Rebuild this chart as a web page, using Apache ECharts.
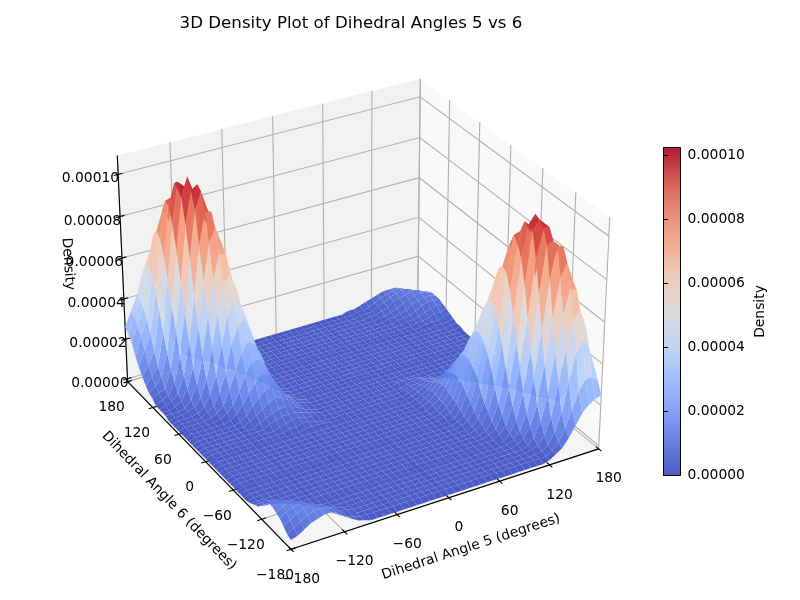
<!DOCTYPE html>
<html><head><meta charset="utf-8">
<style>html,body{margin:0;padding:0;background:#fff}#c{width:800px;height:600px}</style>
<script src="https://cdn.jsdelivr.net/npm/echarts@6/dist/echarts.min.js"></script>
</head><body><div id="c"></div>
<script>
const angleStep = 7.5;
const angleTicks = [-180,-120,-60,0,60,120,180];
const densityTicks = [0,0.00002,0.00004,0.00006,0.00008,0.0001];
const coolwarm = ['rgba(59,76,192,.9)','rgba(98,130,234,.9)','rgba(141,176,254,.9)','rgba(184,208,249,.9)','rgba(221,221,221,.9)','rgba(245,196,173,.9)','rgba(244,154,123,.9)','rgba(222,96,77,.9)','rgba(180,4,38,.9)'];
// density in units of 1e-6, one row per y from -180 to 180, one column per x from -180 to 180
const densityRows = [
[3,4,6,8,9,10,10,8,6,4,2,1,0,0,0,0,0,0,0,0,0,0,0,0,0,0,0,0,0,0,0,0,0,0,0,0,0,0,0,0,1,3,5,9,14,19,22,24,25],
[4,6,8,10,11,11,10,7,5,3,2,1,1,1,1,1,1,1,1,1,1,1,1,1,1,1,1,1,1,1,1,1,1,1,1,1,1,1,1,1,1,3,6,12,20,28,33,33,31],
[6,8,10,11,12,11,9,6,4,3,2,1,1,1,1,1,1,1,1,1,1,1,1,1,1,1,1,1,1,1,1,1,1,1,1,1,1,1,1,1,2,4,9,18,31,45,50,46,36],
[8,10,11,12,11,10,8,6,4,2,2,1,1,1,1,1,1,1,1,1,1,1,1,1,1,1,1,1,1,1,1,1,1,1,1,1,1,1,1,2,3,7,15,29,45,59,63,55,40],
[9,11,12,11,10,8,6,4,3,2,1,1,1,1,1,1,1,1,1,1,1,1,1,1,1,1,1,1,1,1,1,1,1,1,1,1,1,1,1,2,5,12,24,43,61,72,71,57,37],
[10,11,11,10,8,6,4,3,2,1,1,1,1,1,1,1,1,1,1,1,1,1,1,1,1,1,1,1,1,1,1,1,1,1,1,1,1,1,2,4,9,19,37,59,77,83,74,54,33],
[10,10,9,8,6,4,3,2,1,1,1,1,1,1,1,1,1,1,1,1,1,1,1,1,1,1,1,1,1,1,1,1,1,1,1,1,1,1,3,6,14,29,52,75,90,89,72,48,27],
[7,7,6,5,4,3,2,1,1,1,1,1,1,1,1,1,1,1,1,1,1,1,1,1,1,1,1,1,1,1,1,1,1,1,1,1,1,1,4,10,22,42,68,90,91,88,65,40,20],
[5,5,4,3,2,1,1,1,1,1,1,1,1,1,1,1,1,1,1,1,1,1,1,1,1,1,1,1,1,1,1,1,1,1,1,1,1,3,6,15,32,56,83,96,96,81,55,30,14],
[3,3,3,2,1,1,1,1,1,1,1,1,1,1,1,1,1,1,1,1,1,1,1,1,1,1,1,1,1,1,1,1,1,1,1,1,2,4,10,22,43,70,94,99,96,70,43,22,10],
[2,2,2,1,1,1,1,1,1,1,1,1,1,1,1,1,1,1,1,1,1,1,1,1,1,1,1,1,1,1,1,1,1,1,1,1,2,6,14,30,55,81,96,100,83,56,32,15,6],
[1,1,1,1,1,1,1,1,1,1,1,1,1,1,1,1,1,1,1,1,1,1,1,1,1,1,1,1,1,1,1,1,1,1,1,2,4,9,20,40,65,86,96,90,68,42,22,10,4],
[0,1,1,1,1,1,1,1,1,1,1,1,1,1,1,1,1,1,1,1,1,1,1,1,1,1,1,1,1,1,1,1,1,1,1,2,5,12,27,48,72,89,90,75,52,29,14,6,3],
[0,1,1,1,1,1,1,1,1,1,1,1,1,1,1,1,1,1,1,1,1,1,1,1,1,1,1,1,1,1,1,1,1,1,2,3,7,16,33,54,74,83,77,59,37,19,9,4,2],
[0,1,1,1,1,1,1,1,1,1,1,1,1,1,1,1,1,1,1,1,1,1,1,1,1,1,1,1,1,1,1,1,1,1,2,4,10,21,37,57,71,72,61,43,24,12,5,2,1],
[0,1,1,1,1,1,1,1,1,1,1,1,1,1,1,1,1,1,1,1,1,1,1,1,1,1,1,1,1,1,1,1,1,1,2,5,12,24,40,55,63,59,45,29,15,7,3,2,1],
[0,1,1,1,1,1,1,1,1,1,1,1,1,1,1,1,1,1,1,1,1,1,1,1,1,1,1,1,1,1,1,1,1,2,3,7,15,26,40,50,52,45,31,18,9,4,2,1,1],
[0,1,1,1,1,1,1,1,1,1,1,1,1,1,1,1,1,1,1,1,1,1,1,1,1,1,1,1,1,1,1,1,1,2,4,8,16,27,37,43,40,32,20,11,5,3,1,1,1],
[0,1,1,1,1,1,1,1,1,1,1,1,1,1,1,1,1,1,1,1,1,1,1,1,1,1,1,1,1,1,1,1,1,2,5,9,17,26,32,34,29,21,13,6,3,2,1,1,1],
[0,1,1,1,1,1,1,1,1,1,1,1,1,1,1,1,1,1,1,1,1,1,1,1,1,1,1,1,1,1,1,1,1,3,5,10,16,23,26,25,20,13,7,4,2,1,1,1,1],
[0,1,1,1,1,1,1,1,1,1,1,1,1,1,1,1,1,1,1,1,1,1,1,1,1,1,1,1,1,1,1,1,2,3,6,10,15,19,20,17,13,8,4,2,1,1,1,1,1],
[0,1,1,1,1,1,1,1,1,1,1,1,1,1,1,1,1,1,1,1,1,1,1,1,1,1,1,1,1,1,1,1,2,3,6,9,13,15,14,11,8,4,2,1,1,1,1,1,1],
[0,1,1,1,1,1,1,1,1,1,1,1,1,1,1,1,1,1,1,1,1,1,1,1,1,1,1,1,1,1,1,1,2,3,5,8,10,11,9,7,5,3,1,1,1,1,1,1,1],
[0,1,1,1,1,1,1,1,1,1,1,1,1,1,1,2,2,2,2,1,1,1,1,1,1,1,1,1,1,1,1,1,2,3,5,6,7,7,6,4,3,1,1,1,1,1,1,1,1],
[0,1,1,1,1,1,1,1,1,1,1,1,1,2,2,3,3,2,1,1,1,1,1,1,1,1,1,1,1,1,1,1,2,3,4,5,5,5,4,3,1,1,1,1,1,1,1,1,1],
[0,1,1,1,1,1,1,1,1,1,1,1,2,3,4,4,3,3,2,1,1,1,1,1,1,1,1,1,1,1,1,1,2,3,3,4,4,3,2,1,1,1,1,1,1,1,1,1,1],
[0,1,1,1,1,1,1,1,1,1,1,3,4,5,5,5,4,3,2,1,1,1,1,1,1,1,1,1,1,1,1,1,1,2,3,3,2,2,1,1,1,1,1,1,1,1,1,1,1],
[0,1,1,1,1,1,1,1,1,1,3,4,6,7,7,6,5,3,2,1,1,1,1,1,1,1,1,1,1,1,1,1,2,2,2,2,1,1,1,1,1,1,1,1,1,1,1,1,1],
[0,1,1,1,1,1,1,1,1,3,5,7,9,11,10,8,5,3,2,1,1,1,1,1,1,1,1,1,1,1,1,1,1,1,1,1,1,1,1,1,1,1,1,1,1,1,1,1,1],
[0,1,1,1,1,1,1,1,2,4,8,11,14,15,13,9,6,3,2,1,1,1,1,1,1,1,1,1,1,1,1,1,1,1,1,1,1,1,1,1,1,1,1,1,1,1,1,1,1],
[0,1,1,1,1,1,1,2,4,8,13,17,20,19,15,10,6,3,2,1,1,1,1,1,1,1,1,1,1,1,1,1,1,1,1,1,1,1,1,1,1,1,1,1,1,1,1,1,1],
[0,1,1,1,1,1,2,4,7,13,20,25,26,23,16,10,5,3,1,1,1,1,1,1,1,1,1,1,1,1,1,1,1,1,1,1,1,1,1,1,1,1,1,1,1,1,1,1,1],
[0,1,1,1,1,2,3,6,13,21,29,34,32,26,17,9,5,2,1,1,1,1,1,1,1,1,1,1,1,1,1,1,1,1,1,1,1,1,1,1,1,1,1,1,1,1,1,1,1],
[0,1,1,1,1,3,5,11,20,32,40,43,37,27,16,8,4,2,1,1,1,1,1,1,1,1,1,1,1,1,1,1,1,1,1,1,1,1,1,1,1,1,1,1,1,1,1,1,1],
[0,1,1,1,2,4,9,18,31,45,52,50,40,26,15,7,3,2,1,1,1,1,1,1,1,1,1,1,1,1,1,1,1,1,1,1,1,1,1,1,1,1,1,1,1,1,1,1,1],
[0,1,1,2,3,7,15,29,45,59,63,55,40,24,12,5,2,1,1,1,1,1,1,1,1,1,1,1,1,1,1,1,1,1,1,1,1,1,1,1,1,1,1,1,1,1,1,1,1],
[1,1,1,2,5,12,24,43,61,72,71,57,37,21,10,4,2,1,1,1,1,1,1,1,1,1,1,1,1,1,1,1,1,1,1,1,1,1,1,1,1,1,1,1,1,1,1,1,2],
[1,1,2,4,9,19,37,59,77,83,74,54,33,16,7,3,2,1,1,1,1,1,1,1,1,1,1,1,1,1,1,1,1,1,1,1,1,1,1,1,1,1,1,1,1,1,1,2,2],
[1,2,3,6,14,29,52,75,90,89,72,48,27,12,5,2,1,1,1,1,1,1,1,1,1,1,1,1,1,1,1,1,1,1,1,1,1,1,1,1,1,1,1,1,1,2,2,2,3],
[1,3,4,10,22,42,68,90,98,88,65,40,20,9,4,2,1,1,1,1,1,1,1,1,1,1,1,1,1,1,1,1,1,1,1,1,1,1,1,1,1,1,1,1,2,2,2,3,4],
[3,5,6,15,32,56,83,98,100,81,55,30,14,6,2,1,1,1,1,1,1,1,1,1,1,1,1,1,1,1,1,1,1,1,1,1,1,1,1,1,1,1,1,2,2,3,4,4,5],
[4,7,10,22,43,70,94,103,94,70,43,22,10,4,2,1,1,1,1,1,1,1,1,1,1,1,1,1,1,1,1,1,1,1,1,1,1,1,1,1,1,1,2,2,3,4,5,6,6],
[6,10,14,30,55,81,100,97,83,56,32,15,6,3,1,1,1,1,1,1,1,1,1,1,1,1,1,1,1,1,1,1,1,1,1,1,1,1,1,1,1,2,2,3,4,6,7,7,7],
[9,14,20,40,65,88,98,90,68,42,22,10,4,1,1,1,1,1,1,1,1,1,1,1,1,1,1,1,1,1,1,1,1,1,1,1,1,1,1,1,2,2,3,4,6,7,8,8,7],
[12,20,27,48,72,89,90,75,52,29,14,6,3,1,1,1,1,1,1,1,1,1,1,1,1,1,1,1,1,1,1,1,1,1,1,1,1,1,1,2,2,3,4,6,7,8,9,8,7],
[16,25,33,54,74,83,77,59,37,19,9,4,2,1,1,1,1,1,1,1,1,1,1,1,1,1,1,1,1,1,1,1,1,1,1,1,1,1,2,2,3,4,6,7,8,9,8,7,6],
[21,29,37,57,71,72,61,43,24,12,5,2,1,1,1,1,1,1,1,1,1,1,1,1,1,1,1,1,1,1,1,1,1,1,1,1,1,2,2,2,4,5,7,8,9,8,7,6,4],
[24,32,40,55,63,59,45,29,15,7,3,2,1,1,1,1,1,1,1,1,1,1,1,1,1,1,1,1,1,1,1,1,1,1,1,1,1,2,2,3,4,6,7,8,8,7,6,4,3],
[26,33,40,50,52,45,31,18,9,4,2,1,1,1,1,1,1,1,1,1,1,1,1,1,1,1,1,1,1,1,1,1,1,1,1,1,2,2,3,4,5,6,7,7,7,6,4,3,2]
];

const FONT = 'DejaVu Sans';
const ZMIN = -1.45e-6, ZMAX = 1.088e-4, CMAX = 1.025e-4;
const BOX = [1.1905,1.1905,0.8929];
const elev = 30*Math.PI/180, azim = -120*Math.PI/180, DIST = 10, SCALE = 2960, TX = 358.8, TY = 302.7;
const w = [Math.cos(elev)*Math.cos(azim), Math.cos(elev)*Math.sin(azim), Math.sin(elev)];
const eye = [BOX[0]/2+DIST*w[0], BOX[1]/2+DIST*w[1], BOX[2]/2+DIST*w[2]];
const un = Math.hypot(w[1],w[0]);
const u = [-w[1]/un, w[0]/un, 0];
const v = [w[1]*u[2]-w[2]*u[1], w[2]*u[0]-w[0]*u[2], w[0]*u[1]-w[1]*u[0]];
function world(x,y,z){return [(x+180)/360*BOX[0],(y+180)/360*BOX[1],(z-ZMIN)/(ZMAX-ZMIN)*BOX[2]];}
function project(x,y,z){
  const P = world(x,y,z), r=[P[0]-eye[0],P[1]-eye[1],P[2]-eye[2]];
  const d = -(w[0]*r[0]+w[1]*r[1]+w[2]*r[2]);
  const xv=u[0]*r[0]+u[1]*r[1], yv=v[0]*r[0]+v[1]*r[1]+v[2]*r[2];
  return [TX+SCALE*xv/d, TY-SCALE*yv/d, d];
}
const fmtAngle = a => String(a).replace('-','\u2212');

// surface cells, far ones first
const ny = densityRows.length, nx = densityRows[0].length;
const cells = [];
for(let j=0;j<ny-1;j++)for(let i=0;i<nx-1;i++){
  const zs=[densityRows[j][i],densityRows[j][i+1],densityRows[j+1][i+1],densityRows[j+1][i]].map(z=>z*1e-6);
  const zm=(zs[0]+zs[1]+zs[2]+zs[3])/4;
  const d=project(-180+(i+.5)*angleStep,-180+(j+.5)*angleStep,zm)[2];
  cells.push({value:[i,j,zm,zs[0],zs[1],zs[2],zs[3]],d});
}
cells.sort((a,b)=>b.d-a.d);

function surfaceItem(params,api){
  const i=api.value(0), j=api.value(1);
  const X=k=>-180+k*angleStep;
  const pts=[[i,j,3],[i+1,j,4],[i+1,j+1,5],[i,j+1,6]].map(c=>{
    const p=project(X(c[0]),X(c[1]),api.value(c[2]));
    return api.coord([p[0],p[1]]);
  });
  return {type:'polygon',shape:{points:pts},style:{fill:echarts.color.modifyAlpha(api.visual('color'),.93),stroke:'rgba(255,255,255,.07)',lineWidth:.4}};
}
const LO=-180,HI=180,Z0=ZMIN,Z1=ZMAX;
const panes=[
  {pts:[[HI,LO,Z0],[HI,HI,Z0],[HI,HI,Z1],[HI,LO,Z1]],fill:'#f9f9f9'},
  {pts:[[LO,HI,Z0],[HI,HI,Z0],[HI,HI,Z1],[LO,HI,Z1]],fill:'#f2f2f2'},
  {pts:[[LO,LO,Z0],[HI,LO,Z0],[HI,HI,Z0],[LO,HI,Z0]],fill:'#f5f5f5'}
];
const lines=[];
angleTicks.forEach(t=>{
  lines.push({pts:[[t,LO,Z0],[t,HI,Z0],[t,HI,Z1]],c:'#b0b0b0'});
  lines.push({pts:[[LO,t,Z0],[HI,t,Z0],[HI,t,Z1]],c:'#b0b0b0'});
});
densityTicks.forEach(t=>lines.push({pts:[[LO,HI,t],[HI,HI,t],[HI,LO,t]],c:'#b0b0b0'}));
lines.push({pts:[[LO,LO,Z0],[HI,LO,Z0]],c:'#000'});
lines.push({pts:[[LO,LO,Z0],[LO,HI,Z0]],c:'#000'});
lines.push({pts:[[LO,HI,Z0],[LO,HI,Z1]],c:'#000'});
const TK=5;
angleTicks.forEach(t=>{
  lines.push({pts:[[t,LO+TK,Z0],[t,LO-TK,Z0]],c:'#000'});
  lines.push({pts:[[LO+TK,t,Z0],[LO-TK,t,Z0]],c:'#000'});
});
densityTicks.forEach(t=>lines.push({pts:[[LO+TK,HI,t],[LO-TK,HI,t]],c:'#000'}));

const labels=[];
angleTicks.forEach(t=>{
  let p=project(t,LO,Z0);
  labels.push({x:p[0]+10,y:p[1]+30,text:fmtAngle(t),align:'center'});
  p=project(LO,t,Z0);
  labels.push({x:p[0]-16,y:p[1]+26,text:fmtAngle(t),align:'center'});
});
densityTicks.forEach(t=>{
  const p=project(LO,HI,t);
  labels.push({x:p[0]+1,y:p[1]+4.5,text:t.toFixed(5),align:'right'});
});
labels.push({x:471,y:547,text:'Dihedral Angle 5 (degrees)',align:'center',rot:18});
labels.push({x:169,y:501,text:'Dihedral Angle 6 (degrees)',align:'center',rot:-46});
labels.push({x:68,y:264,text:'Density',align:'center',rot:-86});

const chart = echarts.init(document.getElementById('c'),null,{width:800,height:600});
const polyPts=(list,api)=>list.map(q=>{const p=project(q[0],q[1],q[2]);return api.coord([p[0],p[1]]);});
chart.setOption({
  backgroundColor:'#fff',animation:false,
  title:{text:'3D Density Plot of Dihedral Angles 5 vs 6',left:346,top:10,textAlign:'center',
    textStyle:{fontFamily:FONT,fontSize:16.67,fontWeight:'normal',color:'#000'}},
  grid:[
    {left:0,top:0,width:800,height:600,show:false},
    {left:663.5,top:147.5,width:17,height:328,show:true,borderColor:'#000',borderWidth:1,backgroundColor:'transparent',z:10}
  ],
  xAxis:[
    {gridIndex:0,type:'value',min:0,max:800,show:false},
    {gridIndex:1,type:'value',min:0,max:1,axisLine:{show:false},axisTick:{show:false},axisLabel:{show:false},splitLine:{show:false},z:10}
  ],
  yAxis:[
    {gridIndex:0,type:'value',min:0,max:600,inverse:true,show:false},
    {gridIndex:1,type:'value',min:0,max:CMAX,interval:0.00002,position:'right',z:10,
      axisLine:{show:true,lineStyle:{color:'#000'}},axisTick:{show:true,length:4.5,lineStyle:{color:'#000'}},splitLine:{show:false},
      axisLabel:{fontFamily:FONT,fontSize:13.89,color:'#000',margin:7,showMaxLabel:false,padding:[2,0,0,0],formatter:x=>x.toFixed(5)},
      name:'Density',nameLocation:'middle',nameRotate:90,nameGap:73,nameTextStyle:{fontFamily:FONT,fontSize:13.89,color:'#000'}}
  ],
  visualMap:{type:'continuous',min:0,max:CMAX,dimension:2,seriesIndex:3,calculable:false,show:true,padding:0,
    left:663.5,top:147.5,itemWidth:17,itemHeight:328,showLabel:false,
    handleStyle:{opacity:0},indicatorStyle:{opacity:0},
    inRange:{color:coolwarm},textStyle:{color:'transparent',fontSize:1}},
  series:[
    {type:'custom',coordinateSystem:'cartesian2d',xAxisIndex:0,yAxisIndex:0,silent:true,z:1,data:panes.map((p,i)=>[i]),encode:{x:[],y:[]},
      renderItem:(ps,api)=>{const p=panes[ps.dataIndex];return {type:'polygon',shape:{points:polyPts(p.pts,api)},style:{fill:p.fill,stroke:null}};}},
    {type:'custom',coordinateSystem:'cartesian2d',xAxisIndex:0,yAxisIndex:0,silent:true,z:2,data:lines.map((p,i)=>[i]),encode:{x:[],y:[]},
      renderItem:(ps,api)=>{const l=lines[ps.dataIndex];return {type:'polyline',shape:{points:polyPts(l.pts,api)},style:{fill:null,stroke:l.c,lineWidth:1.1}};}},
    {type:'custom',coordinateSystem:'cartesian2d',xAxisIndex:0,yAxisIndex:0,silent:true,z:3,data:labels.map((p,i)=>[i]),encode:{x:[],y:[]},
      renderItem:(ps,api)=>{const l=labels[ps.dataIndex];const c=api.coord([l.x,l.y]);
        return {type:'text',x:c[0],y:c[1],rotation:(l.rot||0)*Math.PI/180,style:{x:0,y:0,text:l.text,fontFamily:FONT,fontSize:13.89,fill:'#000',align:l.align,verticalAlign:'middle'}};}},
    {type:'custom',coordinateSystem:'cartesian2d',xAxisIndex:0,yAxisIndex:0,silent:true,z:4,progressive:0,
      dimensions:['i','j','zm','z0','z1','z2','z3'],encode:{x:[],y:[]},
      data:cells.map(c=>c.value),renderItem:surfaceItem}
  ]
});
</script></body></html>
